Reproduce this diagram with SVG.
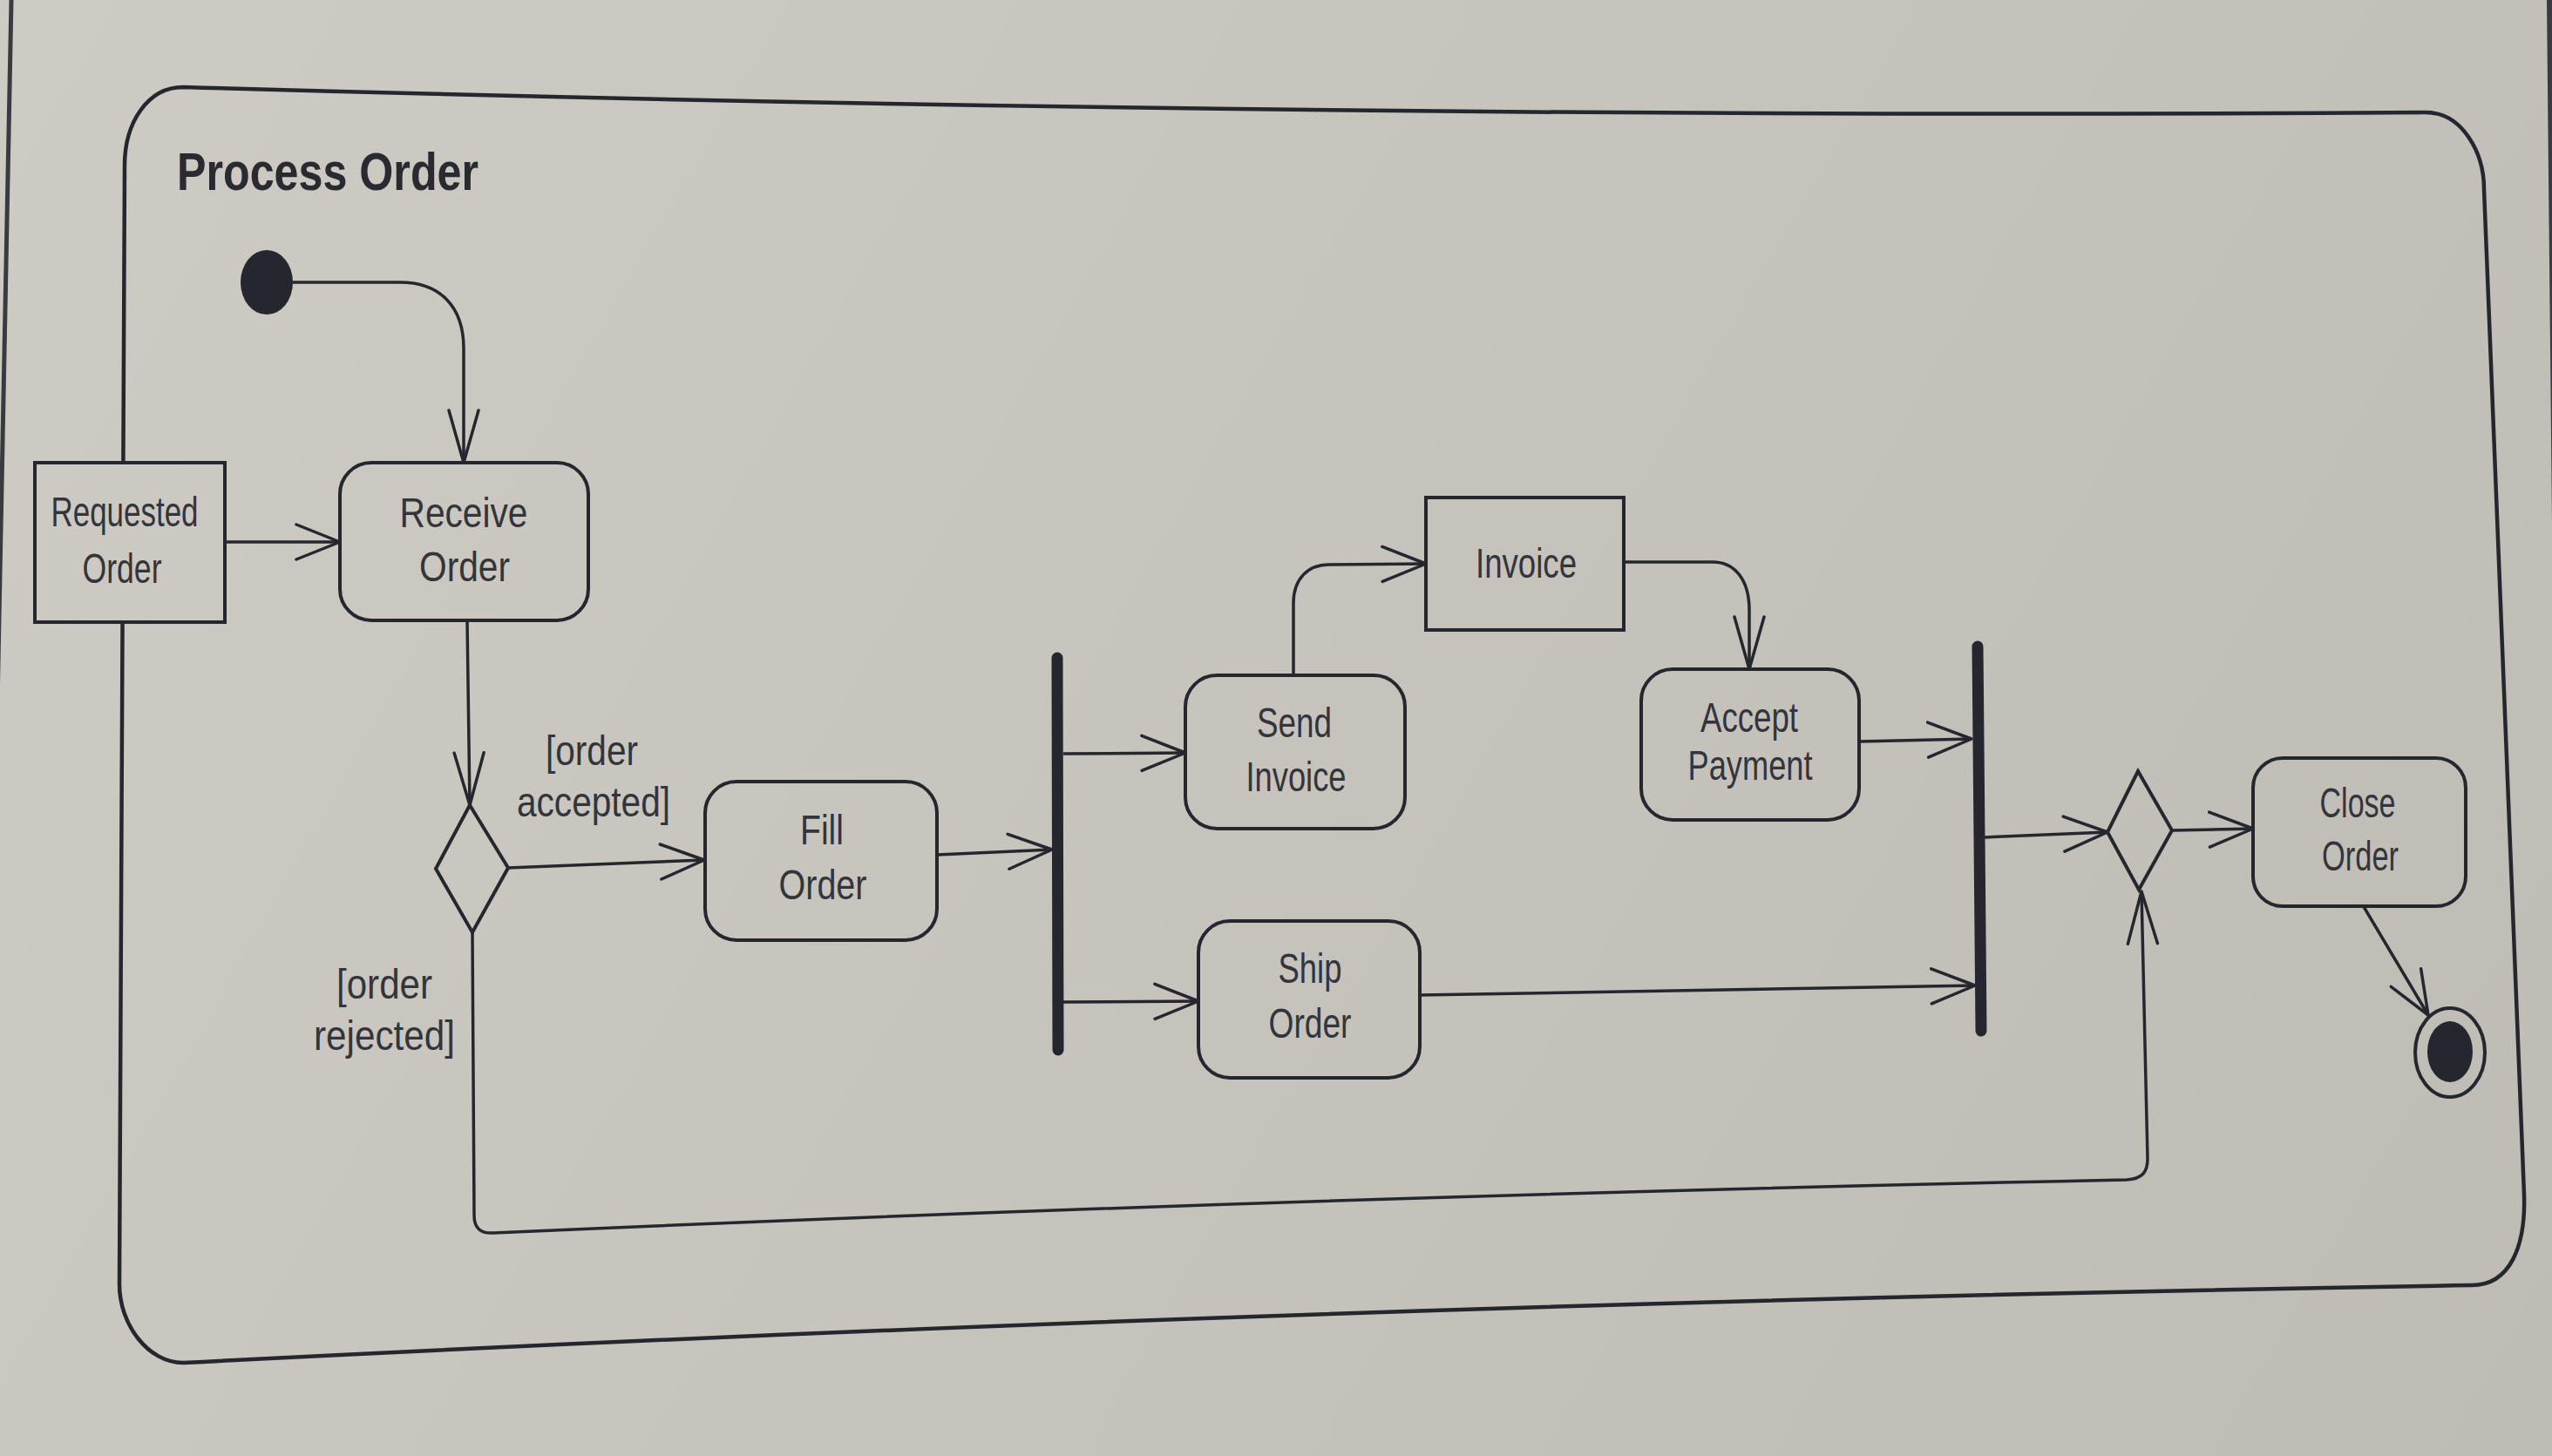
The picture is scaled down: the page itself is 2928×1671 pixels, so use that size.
<svg xmlns="http://www.w3.org/2000/svg" width="2928" height="1671" viewBox="0 0 2928 1671">
<defs>
<linearGradient id="bg" gradientUnits="userSpaceOnUse" x1="0" y1="0" x2="2928" y2="1671">
<stop offset="0" stop-color="#cecbc4"/>
<stop offset="1" stop-color="#bfbcb5"/>
</linearGradient>
<marker id="ah" markerUnits="userSpaceOnUse" markerWidth="56" markerHeight="48" viewBox="-52 -24 56 48" refX="0" refY="0" orient="auto">
<path d="M-50,-20 L0,0 L-50,20" fill="none" stroke="#26272e" stroke-width="3.5" stroke-linejoin="round" stroke-linecap="round"/>
</marker>
<marker id="av" markerUnits="userSpaceOnUse" markerWidth="66" markerHeight="44" viewBox="-62 -22 66 44" refX="0" refY="0" orient="auto">
<path d="M-60,-17 L0,0 L-60,17" fill="none" stroke="#26272e" stroke-width="3.5" stroke-linejoin="round" stroke-linecap="round"/>
</marker>
<style>
.ln{fill:none;stroke:#26272e;stroke-width:3.5;stroke-linejoin:round}
.box{fill:url(#bg);stroke:#26272e;stroke-width:4}
.bar{stroke:#26272e;stroke-width:13;stroke-linecap:round}
.t{font-family:"Liberation Sans",Arial,sans-serif;font-size:48px;fill:#34353b;text-anchor:middle}
.title{font-family:"Liberation Sans",Arial,sans-serif;font-size:62px;font-weight:bold;fill:#2a2b31}
</style>
</defs>
<rect x="0" y="0" width="2928" height="1671" fill="url(#bg)"/>
<line x1="13" y1="0" x2="-20" y2="1671" stroke="#3a3b40" stroke-width="5"/>
<line x1="2925" y1="0" x2="2932" y2="700" stroke="#3a3b40" stroke-width="6"/>

<g id="frame">
<path class="ln" style="stroke-width:4.5" d="M210,100 Q1496,137.5 2783,129 C2825,129 2850,175 2850,217 L2896,1371 C2898,1430 2880,1475 2836,1475 Q1523,1496.5 210,1564 C170,1564 137,1520 137,1474 L143,190 C143,140 170,100 210,100 Z"/>
<text class="title" x="203" y="218" textLength="346" lengthAdjust="spacingAndGlyphs">Process Order</text>
</g>

<g id="connectors">
<path class="ln" d="M336,324 L459,324 C505,324 532,352 532,400 L532,531" marker-end="url(#av)"/>
<path class="ln" d="M258,622 L390,622" marker-end="url(#ah)"/>
<path class="ln" d="M536,712 L539,924" marker-end="url(#av)"/>
<path class="ln" d="M583,996 L808,987" marker-end="url(#ah)"/>
<path class="ln" d="M1075,981 L1207,975" marker-end="url(#ah)"/>
<path class="ln" d="M1220,865 L1360,864" marker-end="url(#ah)"/>
<path class="ln" d="M1220,1150 L1375,1149" marker-end="url(#ah)"/>
<path class="ln" d="M1484,775 L1484,692 C1484,665 1500,648 1525,648 L1636,647" marker-end="url(#ah)"/>
<path class="ln" d="M1863,645 L1965,645 C1990,645 2007,665 2007,700 L2007,768" marker-end="url(#av)"/>
<path class="ln" d="M2133,851 L2262,848" marker-end="url(#ah)"/>
<path class="ln" d="M1629,1142 L2266,1131" marker-end="url(#ah)"/>
<path class="ln" d="M2277,961 L2418,955" marker-end="url(#ah)"/>
<path class="ln" d="M2492,953 L2585,951" marker-end="url(#ah)"/>
<path class="ln" d="M2711,1039 L2786,1165" marker-end="url(#ah)"/>
<path class="ln" d="M542,1070 L544,1395 C544,1410 552,1416 566,1415 Q1503,1373.5 2440,1354 C2458,1353 2464,1345 2464,1330 L2457,1023" marker-end="url(#av)"/>
<text class="t" x="679" y="878" textLength="106" lengthAdjust="spacingAndGlyphs">[order</text>
<text class="t" x="681" y="937" textLength="176" lengthAdjust="spacingAndGlyphs">accepted]</text>
<text class="t" x="441" y="1146" textLength="110" lengthAdjust="spacingAndGlyphs">[order</text>
<text class="t" x="441" y="1205" textLength="162" lengthAdjust="spacingAndGlyphs">rejected]</text>
</g>

<g id="initial"><ellipse cx="306" cy="324" rx="30" ry="37" fill="#26272e"/></g>

<g id="requested-order">
<rect class="box" x="40" y="531" width="218" height="183"/>
<text class="t" x="143" y="604" textLength="169" lengthAdjust="spacingAndGlyphs">Requested</text>
<text class="t" x="140" y="669" textLength="91" lengthAdjust="spacingAndGlyphs">Order</text>
</g>

<g id="receive-order">
<rect class="box" x="390" y="531" width="285" height="181" rx="36"/>
<text class="t" x="532" y="605" textLength="147" lengthAdjust="spacingAndGlyphs">Receive</text>
<text class="t" x="533" y="667" textLength="104" lengthAdjust="spacingAndGlyphs">Order</text>
</g>

<g id="decision"><path class="box" d="M539,924 L583,996 L542,1070 L500,997 Z"/></g>

<g id="fill-order">
<rect class="box" x="809" y="897" width="266" height="182" rx="36"/>
<text class="t" x="943" y="969" textLength="50" lengthAdjust="spacingAndGlyphs">Fill</text>
<text class="t" x="944" y="1032" textLength="101" lengthAdjust="spacingAndGlyphs">Order</text>
</g>

<g id="fork"><line class="bar" x1="1213" y1="755" x2="1214" y2="1205"/></g>

<g id="send-invoice">
<rect class="box" x="1360" y="775" width="252" height="176" rx="36"/>
<text class="t" x="1485" y="846" textLength="86" lengthAdjust="spacingAndGlyphs">Send</text>
<text class="t" x="1487" y="908" textLength="115" lengthAdjust="spacingAndGlyphs">Invoice</text>
</g>

<g id="invoice">
<rect class="box" x="1636" y="571" width="227" height="152"/>
<text class="t" x="1751" y="663" textLength="116" lengthAdjust="spacingAndGlyphs">Invoice</text>
</g>

<g id="accept-payment">
<rect class="box" x="1883" y="768" width="250" height="173" rx="36"/>
<text class="t" x="2007" y="840" textLength="112" lengthAdjust="spacingAndGlyphs">Accept</text>
<text class="t" x="2008" y="895" textLength="143" lengthAdjust="spacingAndGlyphs">Payment</text>
</g>

<g id="ship-order">
<rect class="box" x="1375" y="1057" width="254" height="180" rx="36"/>
<text class="t" x="1503" y="1128" textLength="73" lengthAdjust="spacingAndGlyphs">Ship</text>
<text class="t" x="1503" y="1191" textLength="95" lengthAdjust="spacingAndGlyphs">Order</text>
</g>

<g id="join"><line class="bar" x1="2269" y1="742" x2="2273" y2="1183"/></g>

<g id="merge"><path class="box" d="M2453,885 L2492,953 L2454,1021 L2418,955 Z"/></g>

<g id="close-order">
<rect class="box" x="2585" y="870" width="244" height="170" rx="34"/>
<text class="t" x="2705" y="938" textLength="87" lengthAdjust="spacingAndGlyphs">Close</text>
<text class="t" x="2708" y="999" textLength="88" lengthAdjust="spacingAndGlyphs">Order</text>
</g>

<g id="final">
<ellipse class="box" cx="2811" cy="1208" rx="40" ry="51"/>
<ellipse cx="2811" cy="1207" rx="26" ry="35" fill="#26272e"/>
</g>
</svg>
